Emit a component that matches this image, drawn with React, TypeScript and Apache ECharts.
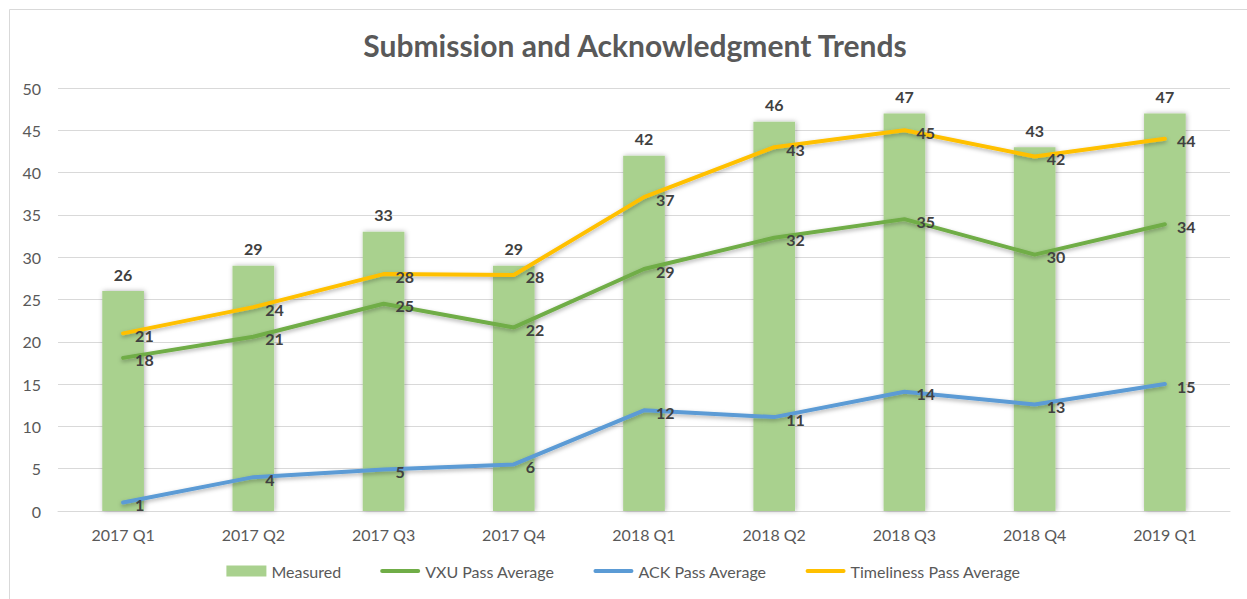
import React, { useEffect, useRef } from "react";
import * as echarts from "echarts";

const categories = ["2017 Q1", "2017 Q2", "2017 Q3", "2017 Q4", "2018 Q1", "2018 Q2", "2018 Q3", "2018 Q4", "2019 Q1"];
const measured = [26, 29, 33, 29, 42, 46, 47, 43, 47];
const vxuPass = [18.1, 20.6, 24.5, 21.7, 28.6, 32.3, 34.5, 30.3, 33.9];
const ackPass = [1.0, 4.0, 4.9, 5.5, 11.9, 11.1, 14.1, 12.6, 15.0];
const timelinessPass = [21.0, 24.1, 28.0, 27.9, 37.1, 43.0, 45.0, 41.9, 44.0];

const FONT = "Lato, 'Open Sans', sans-serif";
const LINE_ICON = "path://M2,0 L38,0 Q40,0 40,2 Q40,4 38,4 L2,4 Q0,4 0,2 Q0,0 2,0 Z";

export default function App() {
  const ref = useRef<HTMLDivElement>(null);
  useEffect(() => {
    if (!ref.current) return;
    const chart = echarts.init(ref.current, undefined, { renderer: "svg" });
    const lineLabel = {
      show: true,
      position: "right",
      distance: 12,
      offset: [0, 2],
      color: "#404040",
      fontWeight: "bold",
      fontSize: 16,
      fontFamily: FONT,
      formatter: (p: any) => String(Math.round(p.value)),
    };
    const lineSeries = (name: string, data: number[], color: string) => ({
      name,
      type: "line",
      data,
      symbol: "circle",
      symbolSize: 0,
      showSymbol: true,
      lineStyle: {
        color,
        width: 4,
        cap: "round",
        join: "round",
        shadowColor: "rgba(0,0,0,0.3)",
        shadowBlur: 4,
        shadowOffsetY: 2,
      },
      itemStyle: { color },
      label: lineLabel,
      z: 3,
    });
    chart.setOption({
      animation: false,
      backgroundColor: "#ffffff",
      textStyle: { fontFamily: FONT },
      title: {
        text: "Submission and Acknowledgment Trends",
        left: 630,
        textAlign: "center",
        top: 25,
        textStyle: { fontFamily: FONT, fontSize: 30, fontWeight: "bold", color: "#595959" },
      },
      graphic: [
        {
          type: "rect",
          shape: { x: 9.5, y: 9.5, width: 1400, height: 800 },
          style: { fill: "none", stroke: "#d9d9d9", lineWidth: 1 },
          silent: true,
        },
      ],
      legend: {
        bottom: 15,
        left: "center",
        itemWidth: 40,
        itemHeight: 11,
        itemGap: 39,
        textStyle: { fontFamily: FONT, fontSize: 16, color: "#595959" },
        data: [
          { name: "Measured", icon: "rect" },
          { name: "VXU Pass Average", icon: LINE_ICON, itemStyle: { color: "#70ad47" } },
          { name: "ACK Pass Average", icon: LINE_ICON, itemStyle: { color: "#5b9bd5" } },
          { name: "Timeliness Pass Average", icon: LINE_ICON, itemStyle: { color: "#ffc000" } },
        ],
      },
      grid: { left: 58, right: 17, top: 88, bottom: 88, containLabel: false },
      xAxis: {
        type: "category",
        data: categories,
        axisLine: { lineStyle: { color: "#d9d9d9", width: 1 } },
        axisTick: { show: false },
        axisLabel: { color: "#595959", fontSize: 16, fontFamily: FONT, margin: 15 },
      },
      yAxis: {
        type: "value",
        min: 0,
        max: 50,
        interval: 5,
        axisLine: { show: false },
        axisTick: { show: false },
        splitLine: { lineStyle: { color: "#d9d9d9", width: 1 } },
        axisLabel: { color: "#595959", fontSize: 16, fontFamily: FONT, margin: 17 },
      },
      series: [
        {
          name: "Measured",
          type: "bar",
          data: measured,
          barWidth: "32%",
          itemStyle: {
            color: "#a9d18e",
            shadowColor: "rgba(0,0,0,0.3)",
            shadowBlur: 5,
            shadowOffsetX: 1,
          },
          label: {
            show: true,
            position: "top",
            distance: 9,
            color: "#404040",
            fontWeight: "bold",
            fontSize: 16,
            fontFamily: FONT,
          },
          z: 2,
        },
        lineSeries("VXU Pass Average", vxuPass, "#70ad47"),
        lineSeries("ACK Pass Average", ackPass, "#5b9bd5"),
        lineSeries("Timeliness Pass Average", timelinessPass, "#ffc000"),
      ],
    });
    return () => chart.dispose();
  }, []);
  return (
    <div
      ref={ref}
      style={{ position: "fixed", left: 0, top: 0, width: 1247, height: 599 }}
    />
  );
}
